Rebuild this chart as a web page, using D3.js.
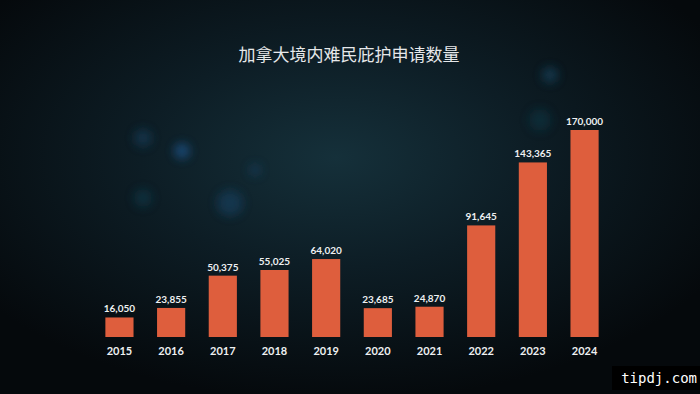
<!DOCTYPE html>
<html>
<head>
<meta charset="utf-8">
<script src="https://cdn.jsdelivr.net/npm/d3@7"></script>
<style>
  html, body { margin: 0; padding: 0; background: #060a0d; }
  #chart { width: 700px; height: 394px; }
</style>
</head>
<body>
<div id="chart"></div>
<script>
const years = ['2015', '2016', '2017', '2018', '2019', '2020', '2021', '2022', '2023', '2024'];
const claims = [16050, 23855, 50375, 55025, 64020, 23685, 24870, 91645, 143365, 170000];
const title = '加拿大境内难民庇护申请数量';

const W = 700, H = 394;
const margin = { top: 130, right: 90, bottom: 57, left: 94 };

const svg = d3.select('#chart').append('svg')
  .attr('width', W)
  .attr('height', H);

const defs = svg.append('defs');

// background glow
const bg = defs.append('radialGradient')
  .attr('id', 'bg')
  .attr('cx', '48%').attr('cy', '40%').attr('r', '62%');
bg.append('stop').attr('offset', '0%').attr('stop-color', '#15303a');
bg.append('stop').attr('offset', '45%').attr('stop-color', '#0d1d25');
bg.append('stop').attr('offset', '100%').attr('stop-color', '#05090c');

const blur = defs.append('filter').attr('id', 'blur')
  .attr('x', '-100%').attr('y', '-100%').attr('width', '300%').attr('height', '300%');
blur.append('feGaussianBlur').attr('stdDeviation', 5);

svg.append('rect').attr('width', W).attr('height', H).attr('fill', 'url(#bg)');

// soft bokeh dots
const dots = [
  { x: 143, y: 138, r: 9, c: '#123a55', o: 0.7 },
  { x: 182, y: 151, r: 8, c: '#1a4f80', o: 0.8 },
  { x: 255, y: 170, r: 6, c: '#164061', o: 0.6 },
  { x: 143, y: 198, r: 9, c: '#103a4c', o: 0.6 },
  { x: 230, y: 203, r: 13, c: '#123d5a', o: 0.7 },
  { x: 550, y: 75, r: 8, c: '#14435c', o: 0.7 },
  { x: 540, y: 120, r: 11, c: '#103443', o: 0.6 }
];
svg.append('g').selectAll('circle')
  .data(dots)
  .enter()
  .append('circle')
  .attr('cx', d => d.x)
  .attr('cy', d => d.y)
  .attr('r', d => d.r)
  .attr('fill', d => d.c)
  .attr('opacity', d => d.o)
  .attr('filter', 'url(#blur)');

const x = d3.scaleBand()
  .domain(years)
  .range([margin.left, W - margin.right])
  .paddingInner(0.455)
  .paddingOuter(0.22);

const y = d3.scaleLinear()
  .domain([0, 170000])
  .range([H - margin.bottom, margin.top]);

svg.append('text')
  .attr('x', 349)
  .attr('y', 61)
  .attr('text-anchor', 'middle')
  .attr('fill', '#e6e8ea')
  .style('font-family', '"Noto Sans CJK SC", sans-serif')
  .style('font-size', '17px')
  .text(title);

const fmt = d3.format(',');

svg.append('g').selectAll('rect')
  .data(claims)
  .enter()
  .append('rect')
  .attr('x', (d, i) => x(years[i]))
  .attr('y', d => y(d))
  .attr('width', x.bandwidth())
  .attr('height', d => y(0) - y(d))
  .attr('fill', '#de5e3d');

svg.append('g').selectAll('text')
  .data(claims)
  .enter()
  .append('text')
  .attr('x', (d, i) => x(years[i]) + x.bandwidth() / 2)
  .attr('y', d => y(d) - 5)
  .attr('text-anchor', 'middle')
  .attr('fill', '#eef0f1')
  .style('font-family', 'Lato, "Open Sans", sans-serif')
  .style('font-weight', 'bold')
  .style('font-size', '10px')
  .text(d => fmt(d));

const axis = svg.append('g')
  .attr('transform', 'translate(0,' + (H - margin.bottom) + ')')
  .call(d3.axisBottom(x).tickSize(0).tickPadding(10));
axis.select('.domain').remove();
axis.selectAll('text')
  .attr('fill', '#eef0f1')
  .style('font-family', 'Lato, "Open Sans", sans-serif')
  .style('font-weight', 'bold')
  .style('font-size', '11px');

// watermark
svg.append('rect')
  .attr('x', 612).attr('y', 366).attr('width', 88).attr('height', 24)
  .attr('fill', '#000');
svg.append('text')
  .attr('x', 697)
  .attr('y', 383)
  .attr('text-anchor', 'end')
  .attr('fill', '#ffffff')
  .style('font-family', '"DejaVu Sans Mono", monospace')
  .style('font-size', '14px')
  .text('tipdj.com');
</script>
</body>
</html>
